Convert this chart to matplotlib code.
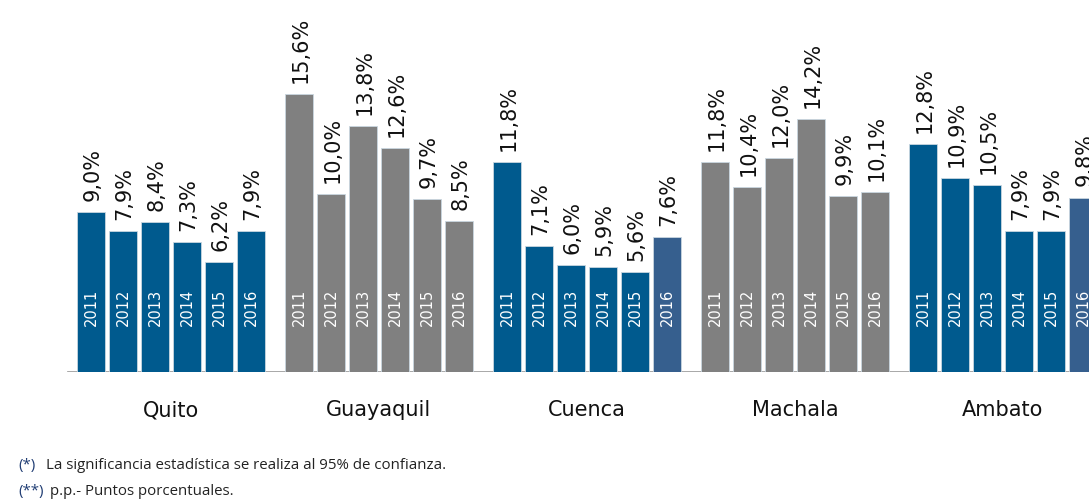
import numpy as np
import matplotlib.pyplot as plt
from matplotlib.transforms import offset_copy

# Data
cities = ["Quito", "Guayaquil", "Cuenca", "Machala", "Ambato"]
years = ["2011", "2012", "2013", "2014", "2015", "2016"]

quito = [9.0, 7.9, 8.4, 7.3, 6.2, 7.9]
guayaquil = [15.6, 10.0, 13.8, 12.6, 9.7, 8.5]
cuenca = [11.8, 7.1, 6.0, 5.9, 5.6, 7.6]
machala = [11.8, 10.4, 12.0, 14.2, 9.9, 10.1]
ambato = [12.8, 10.9, 10.5, 7.9, 7.9, 9.8]

values = [quito, guayaquil, cuenca, machala, ambato]

blue = "#005a8e"
blue_16 = "#365f8e"
gray = "#808080"
bar_colors = [
    [blue] * 6,
    [gray] * 6,
    [blue] * 5 + [blue_16],
    [gray] * 6,
    [blue] * 5 + [blue_16],
]

fig = plt.figure(figsize=(10.89, 5.0), dpi=100)
ax = fig.add_axes([0, 0.256, 1, 0.744])

group_step = 6.5
for g, (city, vals) in enumerate(zip(cities, values)):
    x = g * group_step + np.arange(len(years))
    ax.bar(x, vals, width=0.875, color=bar_colors[g],
           edgecolor="#c9d6e0", linewidth=0.6, zorder=2)
    for xi, v, yr in zip(x, vals, years):
        lab = f"{v:.1f}%".replace(".", ",")
        ax.text(xi + 0.05, v, lab, rotation=90, ha="center", va="bottom",
                fontsize=15, color="#111111",
                transform=offset_copy(ax.transData, fig=fig, y=8, units="points"))
        ax.text(xi, 2.6, yr, rotation=90, ha="center", va="bottom",
                fontsize=10.5, color="white", zorder=3)
    ax.text(g * group_step + 2.5, -1.6, city, ha="center", va="top",
            fontsize=15, color="#111111")

ax.axhline(0, xmin=0.062, xmax=1, color="#999999", linewidth=1.2, zorder=1)

ax.set_xlim(-2.84, 31.19)
ax.set_ylim(0, 20.9)
ax.axis("off")

# Footnotes
fig.text(0.017, 0.062, "(*)", fontsize=10.8, color="#1f3c73", family="Open Sans")
fig.text(0.042, 0.062, "La significancia estadística se realiza al 95% de confianza.",
         fontsize=10.8, color="#222222", family="Open Sans")
fig.text(0.017, 0.01, "(**)", fontsize=10.8, color="#1f3c73", family="Open Sans")
fig.text(0.046, 0.01, "p.p.- Puntos porcentuales.",
         fontsize=10.8, color="#222222", family="Open Sans")

fig.savefig("out.png", dpi=100)
